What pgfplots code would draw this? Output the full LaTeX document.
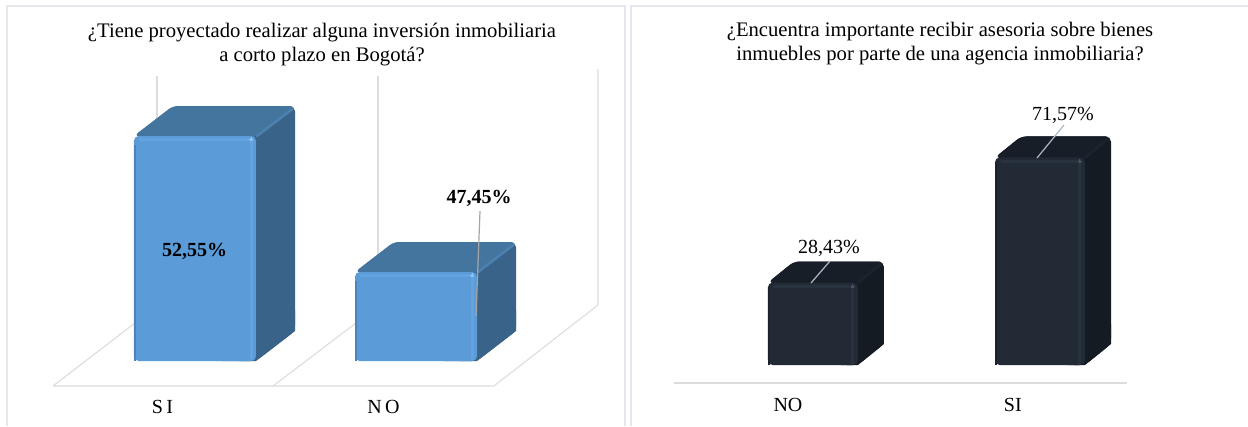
\documentclass[border=0pt]{standalone}
\usepackage{pgfplots}
\pgfplotsset{compat=1.18}
\usepackage{fontspec}
\setmainfont{Liberation Serif}
\definecolor{frameline}{HTML}{E4E7EB}
\definecolor{wallline}{HTML}{DCDCDC}
\definecolor{bluefront}{HTML}{5B9BD7}
\definecolor{bluerim}{HTML}{63A3DF}
\definecolor{blueedge}{HTML}{4A84BA}
\definecolor{bluespot}{HTML}{8CC4F2}
\definecolor{bluetop}{HTML}{44759F}
\definecolor{bluetoprim}{HTML}{4C80AE}
\definecolor{blueside}{HTML}{3A6389}
\definecolor{darkfront}{HTML}{222A35}
\definecolor{darkrim}{HTML}{29333F}
\definecolor{darkedge}{HTML}{1C232C}
\definecolor{darkspot}{HTML}{4A5460}
\definecolor{darktop}{HTML}{171E27}
\definecolor{darktoprim}{HTML}{1B232D}
\definecolor{darkside}{HTML}{151B23}
\definecolor{leader}{HTML}{A6A6A6}
\definecolor{leaderlight}{HTML}{ADB9CA}
\pgfplotsset{
  panel/.style={
    scale only axis, clip=true,
    axis line style={draw=none},
    tick style={draw=none},
    ytick=\empty,
    xticklabel style={anchor=center, font=\fontsize{15}{18}\selectfont},
  },
  face/.style={fill=#1, draw=none, rounded corners=4pt, forget plot},
  foot/.style={fill=#1, draw=none, forget plot},
  rim/.style={draw=#1, line width=2pt, no markers, line cap=round, forget plot},
  edge/.style={draw=#1, line width=1.3pt, no markers, forget plot},
  spot/.style={only marks, color=#1, mark=*, mark size=1.1pt, mark options={fill=#1, draw=#1, line width=0pt}, forget plot},
}
\begin{document}
\begin{tikzpicture}[x=0.75pt,y=0.75pt]
\useasboundingbox (0,0) rectangle (1248,426);
\fill[white] (0,0) rectangle (1248,426);

% Panel frames
\draw[frameline,line width=1.5pt] (7,0) -- (7,420) -- (625,420) -- (625,0);
\draw[frameline,line width=1.5pt] (631,0) -- (631,420) -- (1248,420);

% Back wall and floor of the left chart
\begin{scope}[wallline,line width=0.8pt]
  \draw (53,40) -- (494,40) -- (598,121) -- (598,357);
  \draw (53,40) -- (135,103);
  \draw (273,40) -- (356,103);
  \draw (157,290) -- (157,350);
  \draw (378,171) -- (378,350);
\end{scope}
% Category baseline of the right chart
\draw[wallline,line width=1pt] (674,43) -- (1127,43);

% Left chart: Tiene proyectado realizar alguna inversion
\begin{axis}[panel,
  at={(39pt,48.75pt)}, anchor=south west,
  width=408.75pt, height=219pt,
  xmin=-0.647, xmax=1.819, ymin=44.114, ymax=55.063,
  xtick={-0.147,0.853}, xticklabels={S\,I,N\,O},
  xticklabel style={yshift=-34.5pt},
]
% silhouettes, side and top faces
\addplot[face=blueside] coordinates {(0.1,52.55)(-0.276,52.55)(-0.0995,53.675)(0.4525,53.675)(0.4525,45.239)(0.276,44.114)(0.1,44.114)} --cycle;
\addplot[foot=blueside] coordinates {(0.2,44.114)(0.276,44.114)(0.4525,45.239)(0.4525,46)(0.2,46)} --cycle;
\addplot[face=bluetop] coordinates {(0.1,52)(-0.276,52.55)(-0.0995,53.675)(0.4525,53.675)(0.276,52.55)} --cycle;
\addplot[face=blueside] coordinates {(1.1,47.45)(0.724,47.45)(0.9005,48.575)(1.4525,48.575)(1.4525,45.239)(1.276,44.114)(1.1,44.114)} --cycle;
\addplot[foot=blueside] coordinates {(1.2,44.114)(1.276,44.114)(1.4525,45.239)(1.4525,46)(1.2,46)} --cycle;
\addplot[face=bluetop] coordinates {(1.1,47)(0.724,47.45)(0.9005,48.575)(1.4525,48.575)(1.276,47.45)} --cycle;
% ridge between top and side
\addplot[rim=bluetoprim] coordinates {(0.28,52.55)(0.44,53.56)};
\addplot[rim=bluetoprim] coordinates {(1.28,47.45)(1.44,48.46)};
% front faces
\addplot[ybar, bar width=91.5pt, bar shift=0pt, fill=bluefront, draw=none, rounded corners=3.5pt] coordinates {(0,52.55)(1,47.45)};
% soft bevel of the front faces
\addplot[rim=bluerim] coordinates {(-0.25,52.43)(0.255,52.43)};
\addplot[rim=bluerim] coordinates {(0.255,52.43)(0.255,44.2)};
\addplot[rim=bluerim] coordinates {(0.75,47.33)(1.255,47.33)};
\addplot[rim=bluerim] coordinates {(1.255,47.33)(1.255,44.2)};
\addplot[edge=blueedge] coordinates {(-0.272,52.2)(-0.272,44.114)};
\addplot[edge=blueedge] coordinates {(0.728,47.1)(0.728,44.114)};
\addplot[spot=bluespot] coordinates {(0.255,52.43)(1.255,47.33)};
\end{axis}

% Right chart: Encuentra importante recibir asesoria
\begin{axis}[panel,
  at={(505.5pt,45.75pt)}, anchor=south west,
  width=339.75pt, height=198.75pt,
  xmin=-0.612, xmax=1.383, ymin=0, ymax=91.38,
  xtick={-0.11,0.88}, xticklabels={NO,SI},
  xticklabel style={yshift=-30pt},
]
\addplot[face=darkside] coordinates {(0.1,28.43)(-0.198,28.43)(-0.0835,35.67)(0.3125,35.67)(0.3125,7.24)(0.198,0)(0.1,0)} --cycle;
\addplot[foot=darkside] coordinates {(0.15,0)(0.198,0)(0.3125,7.24)(0.3125,14)(0.15,14)} --cycle;
\addplot[face=darktop] coordinates {(0.1,25)(-0.198,28.43)(-0.0835,35.67)(0.3125,35.67)(0.198,28.43)} --cycle;
\addplot[face=darkside] coordinates {(1.1,71.57)(0.802,71.57)(0.9165,78.81)(1.3125,78.81)(1.3125,7.24)(1.198,0)(1.1,0)} --cycle;
\addplot[foot=darkside] coordinates {(1.15,0)(1.198,0)(1.3125,7.24)(1.3125,14)(1.15,14)} --cycle;
\addplot[face=darktop] coordinates {(1.1,68)(0.802,71.57)(0.9165,78.81)(1.3125,78.81)(1.198,71.57)} --cycle;
\addplot[rim=darktoprim] coordinates {(0.2,28.43)(0.3,34.9)};
\addplot[rim=darktoprim] coordinates {(1.2,71.57)(1.3,78)};
\addplot[ybar, bar width=67.5pt, bar shift=0pt, fill=darkfront, draw=none, rounded corners=3.5pt] coordinates {(0,28.43)};
\addplot[ybar, bar width=67.5pt, bar shift=0pt, fill=darkfront, draw=none, rounded corners=3.5pt] coordinates {(1,71.57)};
\addplot[rim=darkrim] coordinates {(-0.17,27.1)(0.175,27.1)};
\addplot[rim=darkrim] coordinates {(0.175,27.1)(0.175,0.5)};
\addplot[rim=darkrim] coordinates {(0.83,70.24)(1.175,70.24)};
\addplot[rim=darkrim] coordinates {(1.175,70.24)(1.175,0.5)};
\addplot[edge=darkedge] coordinates {(-0.194,27)(-0.194,0)};
\addplot[edge=darkedge] coordinates {(0.806,70)(0.806,0)};
\addplot[spot=darkspot] coordinates {(0.175,27.1)(1.175,70.24)};
\end{axis}

% Leader lines of the data labels
\draw[leader,line width=0.9pt] (480,215) -- (476,110);
\draw[leaderlight,line width=0.9pt] (1064,301) -- (1037,268);
\draw[leaderlight,line width=0.9pt] (830,165) -- (811,143);

% Data labels
\begin{scope}[every node/.style={font=\fontsize{15}{18}\selectfont}]
  \node at (194.5,175) {\bfseries 52,55\%};
  \node at (479,228) {\bfseries 47,45\%};
  \node at (1063,311) {71,57\%};
  \node at (829,178) {28,43\%};
  \node[align=center,font=\fontsize{15.5}{18}\selectfont] at (322,381)
    {¿Tiene proyectado realizar alguna inversión inmobiliaria\\a corto plazo en Bogotá?};
  \node[align=center,font=\fontsize{15.5}{18}\selectfont] at (940,382)
    {¿Encuentra importante recibir asesoria sobre bienes\\inmuebles por parte de una agencia inmobiliaria?};
\end{scope}
\end{tikzpicture}
\end{document}
